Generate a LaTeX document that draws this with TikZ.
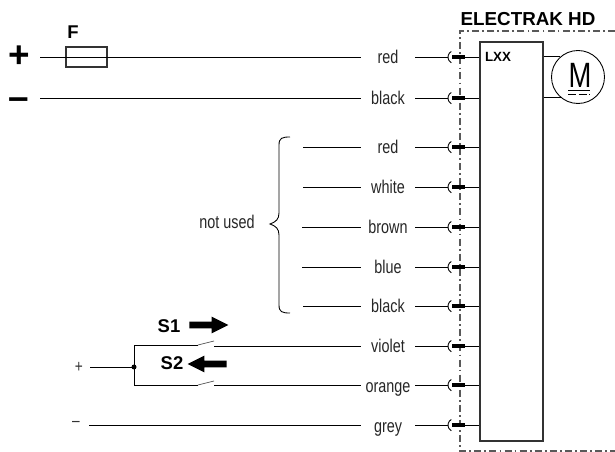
\documentclass[tikz,border=0pt]{standalone}
\usepackage{fontspec}
\setmainfont{Liberation Sans}
\newfontfamily\narrowfont[FakeStretch=0.78]{Liberation Sans}
\usetikzlibrary{shapes.arrows}

\begin{document}
\begin{tikzpicture}[
    x=0.02cm, y=-0.02cm,
    wire/.style={draw, line width=0.5pt},
    housing/.style={draw=black!65, line width=0.7pt, dash pattern=on 4pt off 1.8pt on 1pt off 1.8pt},
    colorlabel/.style={rectangle, anchor=base, inner sep=0pt, minimum width=1.08cm, font=\narrowfont\fontsize{10.5}{11}\selectfont, text=black!85},
    pinbar/.style={rectangle, fill=black, inner sep=0pt, minimum width=0.26cm, minimum height=0.08cm},
    caption/.style={inner sep=0pt, font=\bfseries\fontsize{10.5}{12}\selectfont},
    bigsign/.style={inner sep=0pt, font=\bfseries\fontsize{21}{21}\selectfont},
    smallsign/.style={inner sep=0pt, font=\narrowfont\fontsize{10}{12}\selectfont, text=black!80},
    blockarrow/.style={single arrow, fill=black, inner xsep=0pt, inner ysep=0.06cm, minimum width=0.32cm, minimum height=0.78cm, single arrow head extend=0.1cm, single arrow tip angle=53}
]
    \useasboundingbox (0,0) rectangle (615,452);

    % Gehaeuse
    \draw[housing] (615,31) -- (460,31) -- (460,451) -- (615,451);
    \node[caption, font=\bfseries\fontsize{10.7}{12}\selectfont] (title) at (528,19) {ELECTRAK HD};

    % Steuerung und Motor
    \node[rectangle, draw=black!80, line width=0.9pt, minimum width=1.26cm, minimum height=7.98cm, inner sep=0pt] (lxx) at (511.5,241.5) {};
    \node[inner sep=0pt, font=\bfseries\fontsize{7.6}{9}\selectfont] (lxxname) at (498,57) {LXX};
    \node[circle, draw, line width=0.5pt, minimum size=1.06cm, inner sep=0pt] (motor) at (578,77) {};
    \node[inner sep=0pt, font=\narrowfont\fontsize{20}{21}\selectfont] (motorname) at (580,75) {M};
    \coordinate (bar1a) at (568,90);
    \coordinate (bar1b) at (590,90);
    \coordinate (bar2a) at (568,94);
    \coordinate (bar2b) at (590,94);
    \draw[line width=0.5pt] (bar1a) -- (bar1b);
    \draw[line width=0.5pt, dash pattern=on 4.6pt off 1.4pt] (bar2a) -- (bar2b);
    \draw[wire] (motor.131 -| lxx.east) -- (motor.131);
    \draw[wire] (motor.231 -| lxx.east) -- (motor.231);

    % Schalter
    \node[caption] (s1name) at (169,326) {S1};
    \node[caption] (s2name) at (172,363) {S2};
    \node[blockarrow] (s1arrow) at (205.5,325) {};
    \node[blockarrow, shape border rotate=180] (s2arrow) at (210.5,364) {};
    \coordinate (s1left) at (134,345);
    \coordinate (s1hinge) at (198,345);
    \coordinate (s1tip) at (214,341);
    \coordinate (s2left) at (134,385);
    \coordinate (s2hinge) at (198,385);
    \coordinate (s2tip) at (214,381);
    \coordinate (feed) at (90,367);
    \coordinate (join) at (134,367);
    \draw[wire] (s1hinge) -- (s1left) -- (s2left) -- (s2hinge);
    \draw[line width=0.4pt, black!70] (s1hinge) -- (s1tip);
    \draw[line width=0.4pt, black!70] (s2hinge) -- (s2tip);
    \draw[wire] (feed) -- (join);
    \fill (join) circle (0.05cm);
    \node[smallsign] (feedsign) at (79,367) {+};
    \node[smallsign] (groundsign) at (76,424) {–};

    % Zuleitungen
    \node[bigsign] (plus) at (19,57) {+};
    \node[bigsign] (minus) at (19,104) {–};
    \node[caption] (fname) at (73,32) {F};
    \node[rectangle, draw=black!80, line width=0.8pt, minimum width=0.82cm, minimum height=0.4cm, inner sep=0pt] (fuse) at (86.5,57) {};

    % Adern
    \foreach \i/\colname/\yy/\xx in {1/red/57/40, 2/black/98/40, 3/red/147/303, 4/white/187/303, 5/brown/227/302, 6/blue/267/302, 7/black/306/303, 8/violet/346/214, 9/orange/385/214, 10/grey/425/89} {
        \coordinate (start\i) at (\xx,\yy);
        \coordinate (cup\i) at (448,\yy);
        \node[colorlabel] (col\i) at (388,\yy+7) {\colname};
        \node[pinbar] (pin\i) at (458.5,\yy) {};
        \draw[wire] (start\i) -- (start\i -| col\i.west);
        \draw[wire] (cup\i -| col\i.east) -- (cup\i);
        \draw[line width=0.5pt] ([xshift=0.065cm,yshift=0.11cm]cup\i) arc[start angle=120, end angle=240, radius=0.13cm];
        \draw[wire] (pin\i.east) -- (pin\i -| lxx.west);
    }

    % Klammer
    \node[inner sep=0pt, font=\narrowfont\fontsize{10.5}{12}\selectfont, text=black!85] (notused) at (227,222) {not used};
    \draw[line width=0.5pt] (290,137) .. controls (282,137) and (279,138) .. (279,145) -- (279,213)
        .. controls (279,219) and (276,222) .. (270,224) .. controls (276,226) and (279,229) .. (279,235)
        -- (279,305) .. controls (279,312) and (282,313) .. (290,313);
\end{tikzpicture}
\end{document}
